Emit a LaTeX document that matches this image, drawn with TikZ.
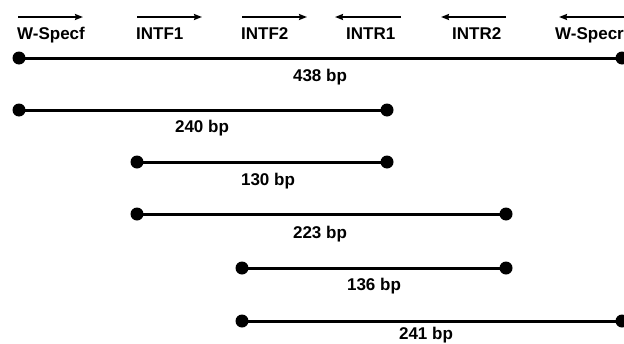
\documentclass[tikz,border=0pt]{standalone}
\usepackage{fontspec}
\setmainfont{Liberation Sans}
\usetikzlibrary{arrows.meta}
\begin{document}
\begin{tikzpicture}[x=1pt,y=-1pt,
  dot/.style={circle,fill=black,inner sep=0pt,minimum size=13pt},
  seg/.style={line width=3pt},
  primer/.style={line width=2pt,-{Stealth[length=8pt,width=6pt,inset=1pt]}},
  lbl/.style={anchor=base,inner sep=0pt,font=\fontsize{17}{20}\selectfont\bfseries},
  plbl/.style={anchor=base west,inner sep=0pt,font=\fontsize{17}{20}\selectfont\bfseries}]
\useasboundingbox (0,0) rectangle (624,343);
\clip (0,0) rectangle (624,343);

% primer directions and names
\coordinate (pf0s) at (18,17);  \coordinate (pf0e) at (83,17);
\coordinate (pf1s) at (137,17); \coordinate (pf1e) at (202,17);
\coordinate (pf2s) at (242,17); \coordinate (pf2e) at (307,17);
\coordinate (pr1s) at (401,17); \coordinate (pr1e) at (335,17);
\coordinate (pr2s) at (506,17); \coordinate (pr2e) at (441,17);
\coordinate (pr0s) at (628,17); \coordinate (pr0e) at (559,17);
\foreach \p in {pf0,pf1,pf2,pr1,pr2,pr0}
  \draw[primer] (\p s) -- (\p e);

\node[plbl] (nf0) at (17,39)  {W-Specf};
\node[plbl] (nf1) at (136,39) {INTF1};
\node[plbl] (nf2) at (241,39) {INTF2};
\node[plbl] (nr1) at (346,39) {INTR1};
\node[plbl] (nr2) at (452,39) {INTR2};
\node[plbl] (nr0) at (555,39) {W-Specr};

% amplified fragments
\node[dot] (a1) at (19,58)  {}; \node[dot] (b1) at (622,58)  {};
\node[dot] (a2) at (19,110) {}; \node[dot] (b2) at (387,110) {};
\node[dot] (a3) at (137,162) {}; \node[dot] (b3) at (387,162) {};
\node[dot] (a4) at (137,214) {}; \node[dot] (b4) at (506,214) {};
\node[dot] (a5) at (242,268) {}; \node[dot] (b5) at (506,268) {};
\node[dot] (a6) at (242,321) {}; \node[dot] (b6) at (622,321) {};
\foreach \i in {1,...,6}
  \draw[seg] (a\i.center) -- (b\i.center);

\node[lbl] (l1) at (320,81)  {438 bp};
\node[lbl] (l2) at (202,132) {240 bp};
\node[lbl] (l3) at (268,185) {130 bp};
\node[lbl] (l4) at (320,238) {223 bp};
\node[lbl] (l5) at (374,290) {136 bp};
\node[lbl] (l6) at (426,339) {241 bp};
\end{tikzpicture}
\end{document}
